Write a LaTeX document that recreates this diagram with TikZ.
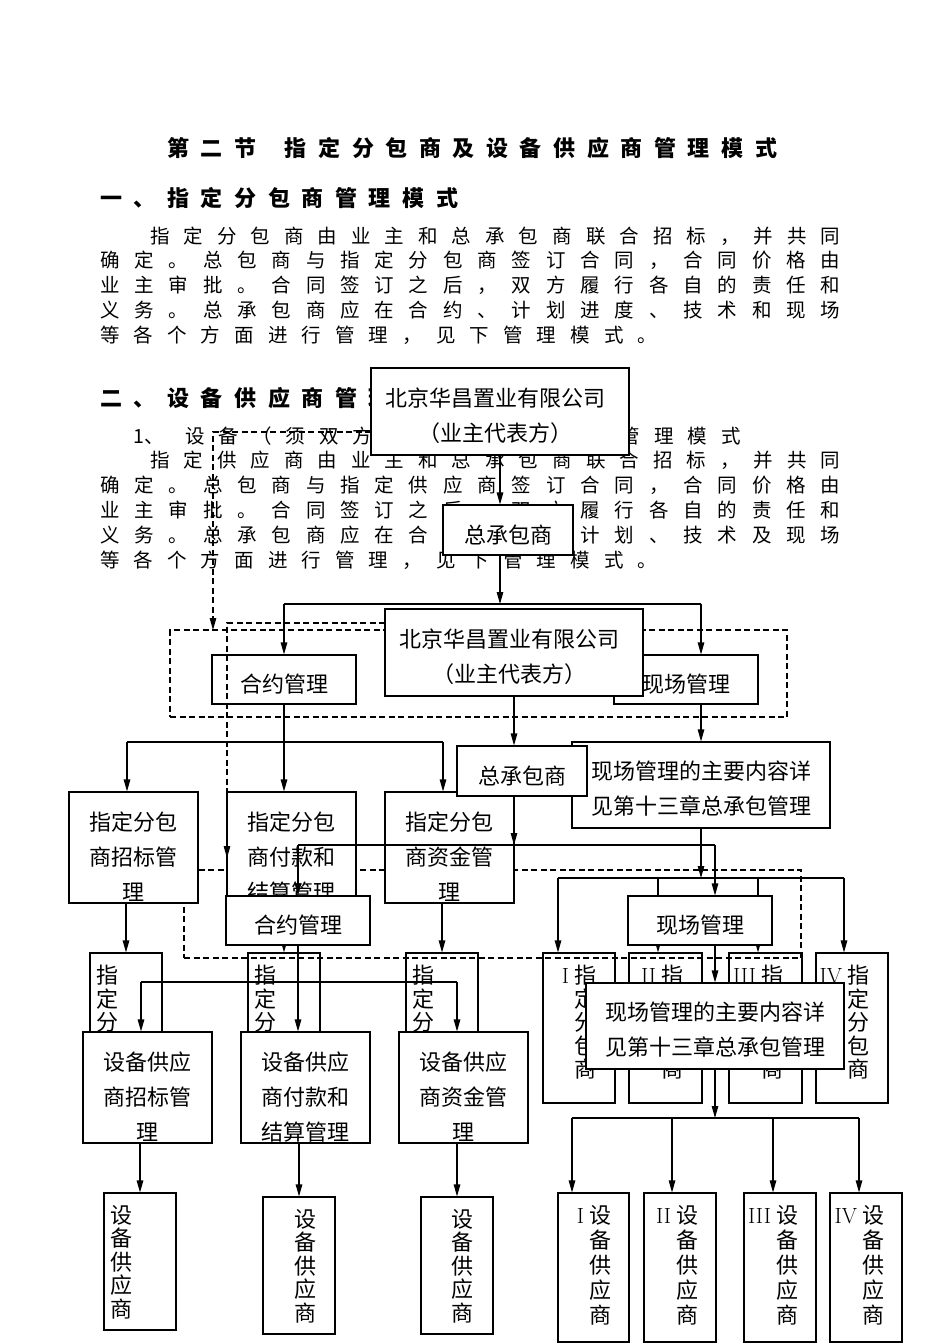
\documentclass[tikz,border=0pt]{standalone}
\usepackage{fontspec}
\newfontfamily\cjk{Noto Sans CJK SC}
\usetikzlibrary{arrows.meta,calc}

% one character per slot of width \pitch, or spread to the box width
\newlength\pitch
\setlength\pitch{33.6pt}
\def\fixp#1{\ifx#1\relax\else\makebox[\pitch][l]{#1}\expandafter\fixp\fi}
\def\sprd#1{\ifx#1\relax\else#1\hfil\expandafter\sprd\fi}
\newcommand\rn[1]{\makebox[0pt][r]{\rmfamily #1\hspace{5pt}}}

\tikzset{
  box/.style={draw, line width=1.1pt, fill=white, inner sep=0pt},
  hollow/.style={draw, line width=1.1pt, inner sep=0pt},
  txt/.style={inner sep=0pt, align=center, font=\cjk\fontsize{22}{35}\selectfont},
  vtxt/.style={inner sep=0pt, align=center, anchor=north, font=\cjk\fontsize{22}{23.5}\selectfont},
  ptxt/.style={inner sep=0pt, anchor=west, font=\cjk\fontsize{19.5}{20}\selectfont},
  htxt/.style={inner sep=0pt, anchor=west, font=\cjk\bfseries\fontsize{22}{24}\selectfont},
  ln/.style={line width=1.1pt},
  arr/.style={line width=1.1pt, -{Triangle[length=12pt,width=6.5pt]}},
  dsh/.style={dash pattern=on 6pt off 3.5pt},
}

% box: style, name, x1, y1, x2, y2, text dx, text dy, text
\newcommand\bx[9]{%
  \node[#1, minimum width=#5-#3, minimum height=#6-#4] (#2) at ({(#3+#5)/2},{(#4+#6)/2}) {};
  \node[txt] (#2t) at ({(#3+#5)/2+#7},{(#4+#6)/2+#8}) {#9};}
% narrow box with text in a column: style, name, x1, y1, x2, y2, column offset, text
\newcommand\vbx[8]{%
  \node[#1, minimum width=#5-#3, minimum height=#6-#4] (#2) at ({(#3+#5)/2},{(#4+#6)/2}) {};
  \node[vtxt] (#2t) at ({#3+#7},{#4+12}) {#8};}

\begin{document}
\begin{tikzpicture}[x=1pt,y=-1pt]
\fill[white] (0,0) rectangle (950,1344);

%% text of the page
\node[htxt] (title) at (167,148) {\fixp 第二节\relax\hspace{16.8pt}\fixp 指定分包商及设备供应商管理模式\relax};
\node[htxt] (head1) at (100,198) {\fixp 一、指定分包商管理模式\relax};
\node[ptxt] (p1a) at (150,236) {\hbox to 690pt{\sprd 指定分包商由业主和总承包商联合招标，并共同\relax\unskip}};
\node[ptxt] (p1b) at (100,260) {\hbox to 740pt{\sprd 确定。总包商与指定分包商签订合同，合同价格由\relax\unskip}};
\node[ptxt] (p1c) at (100,285) {\hbox to 740pt{\sprd 业主审批。合同签订之后，双方履行各自的责任和\relax\unskip}};
\node[ptxt] (p1d) at (100,310) {\hbox to 740pt{\sprd 义务。总承包商应在合约、计划进度、技术和现场\relax\unskip}};
\node[ptxt] (p1e) at (100,335) {\fixp 等各个方面进行管理，见下管理模式。\relax};
\node[htxt] (head2) at (100,398) {\fixp 二、设备供应商管理模式\relax};
\node[ptxt] (sub1) at (133,436) {\makebox[52pt][l]{1、}\setlength\pitch{33.5pt}\fixp 设备（须双方共同确定品牌）管理模式\relax};
\node[ptxt] (p2a) at (150,460) {\hbox to 690pt{\sprd 指定供应商由业主和总承包商联合招标，并共同\relax\unskip}};
\node[ptxt] (p2b) at (100,485) {\hbox to 740pt{\sprd 确定。总包商与指定供应商签订合同，合同价格由\relax\unskip}};
\node[ptxt] (p2c) at (100,510) {\hbox to 740pt{\sprd 业主审批。合同签订之后，双方履行各自的责任和\relax\unskip}};
\node[ptxt] (p2d) at (100,535) {\hbox to 740pt{\sprd 义务。总承包商应在合约、进度计划、技术及现场\relax\unskip}};
\node[ptxt] (p2e) at (100,560) {\fixp 等各个方面进行管理，见下管理模式。\relax};

%% first chart (designated subcontractors)
\node[hollow, dsh, minimum width=617, minimum height=87] (grpA) at (478.5,673.5) {};
\coordinate (sA) at (371,432);
\coordinate (dA) at (213,630);
\draw[arr, dsh] (sA) -| (dA);
\bx{box}{ownA}{371}{368}{629}{455}{-5}{4}{北京华昌置业有限公司\\（业主代表方）}
\bx{box}{zcA}{443}{505}{573}{555}{0}{5}{总承包商}
\coordinate (jA) at (500,604);
\draw[arr] (ownA.south) -- (ownA.south |- zcA.north);
\draw[arr] (ownA.south |- zcA.south) -- (jA);
\bx{box}{hyA}{212}{655}{356}{704}{0}{5}{合约管理}
\bx{box}{xcA}{614}{655}{758}{704}{0}{5}{现场管理}
\bx{box}{nrA}{572}{742}{830}{828}{0}{4}{现场管理的主要内容详\\见第十三章总承包管理}
\draw[ln] (hyA.north |- jA) -- (nrA.north |- jA);
\draw[arr] (hyA.north |- jA) -- (hyA.north);
\draw[arr] (nrA.north |- jA) -- (nrA.north |- xcA.north);
\draw[arr] (nrA.north |- xcA.south) -- (nrA.north);

%% second chart, top part
\bx{box}{ownB}{385}{609}{643}{696}{-5}{4}{北京华昌置业有限公司\\（业主代表方）}
\node[hollow, dsh, minimum width=617, minimum height=88] (grpB) at (492.5,914) {};

%% first chart, lower part
\bx{box}{zbA}{69}{792}{198}{903}{0}{9.5}{指定分包\\商招标管\\理}
\bx{box}{fkA}{227}{792}{356}{903}{0}{9.5}{指定分包\\商付款和\\结算管理}
\bx{box}{zjA}{385}{792}{514}{903}{0}{9.5}{指定分包\\商资金管\\理}
\vbx{hollow}{fbA1}{90}{953}{162}{1090}{17}{指\\定\\分\\包\\商}
\vbx{hollow}{fbA2}{248}{953}{320}{1090}{17}{指\\定\\分\\包\\商}
\vbx{hollow}{fbA3}{406}{953}{478}{1090}{17}{指\\定\\分\\包\\商}
\vbx{hollow}{rA1}{543}{953}{615}{1103}{42}{\rn{I}指\\定\\分\\包\\商}
\vbx{hollow}{rA2}{629}{953}{702}{1103}{43}{\rn{II}指\\定\\分\\包\\商}
\vbx{hollow}{rA3}{729}{953}{802}{1103}{43}{\rn{III}指\\定\\分\\包\\商}
\vbx{hollow}{rA4}{816}{953}{888}{1103}{42}{\rn{IV}指\\定\\分\\包\\商}
\coordinate (kA1) at (127,742);
\coordinate (kA3) at (443,742);
\draw[arr] (hyA.south) -- (hyA.south |- fkA.north);
\draw[ln] (kA1) -- (kA3);
\draw[arr] (kA1) -- (kA1 |- zbA.north);
\draw[arr] (kA3) -- (kA3 |- zjA.north);
\foreach \i in {1,2,3}
  \draw[arr] (fbA\i.north |- zbA.south) -- (fbA\i.north);
\coordinate (qA1) at (558,878);
\coordinate (qA2) at (658,878);
\coordinate (qA3) at (758,878);
\coordinate (qA4) at (844,878);
\draw[arr] (nrA.south) -- (nrA.south |- qA1);
\draw[ln] (qA1) -- (qA4);
\foreach \i in {1,...,4}
  \draw[arr] (qA\i) -- (qA\i |- rA\i.north);

%% second chart (equipment suppliers)
\coordinate (sB) at (385,623);
\coordinate (dB) at (227,858);
\draw[arr, dsh] (sB) -| (dB);
\bx{box}{zcB}{457}{746}{587}{796}{0}{5}{总承包商}
\coordinate (jB) at (514,845);
\draw[arr] (ownB.south) -- (ownB.south |- zcB.north);
\draw[arr] (ownB.south |- zcB.south) -- (jB);
\bx{box}{hyB}{226}{896}{370}{945}{0}{5}{合约管理}
\bx{box}{xcB}{628}{896}{772}{945}{0}{5}{现场管理}
\bx{box}{nrB}{586}{983}{844}{1069}{0}{4}{现场管理的主要内容详\\见第十三章总承包管理}
\draw[ln] (hyB.north |- jB) -- (nrB.north |- jB);
\draw[arr] (hyB.north |- jB) -- (hyB.north);
\draw[arr] (nrB.north |- jB) -- (nrB.north |- xcB.north);
\draw[arr] (nrB.north |- xcB.south) -- (nrB.north);

\bx{box}{sbB}{83}{1032}{212}{1143}{0}{9.5}{设备供应\\商招标管\\理}
\bx{box}{fkB}{241}{1032}{370}{1143}{0}{9.5}{设备供应\\商付款和\\结算管理}
\bx{box}{zjB}{399}{1032}{528}{1143}{0}{9.5}{设备供应\\商资金管\\理}
\vbx{box}{gyB1}{104}{1193}{176}{1330}{17}{设\\备\\供\\应\\商}
\vbx{box}{gyB2}{263}{1197}{335}{1334}{42}{设\\备\\供\\应\\商}
\vbx{box}{gyB3}{421}{1197}{493}{1334}{41}{设\\备\\供\\应\\商}
\coordinate (kB1) at (141,982);
\coordinate (kB3) at (457,982);
\draw[arr] (hyB.south) -- (hyB.south |- fkB.north);
\draw[ln] (kB1) -- (kB3);
\draw[arr] (kB1) -- (kB1 |- sbB.north);
\draw[arr] (kB3) -- (kB3 |- zjB.north);
\foreach \i in {1,2,3}
  \draw[arr] (gyB\i.north |- sbB.south) -- (gyB\i.north);

\vbx{box}{rB1}{558}{1193}{629}{1342}{42}{\rn{I}设\\[1.5pt]备\\[1.5pt]供\\[1.5pt]应\\[1.5pt]商}
\vbx{box}{rB2}{644}{1193}{716}{1342}{43}{\rn{II}设\\[1.5pt]备\\[1.5pt]供\\[1.5pt]应\\[1.5pt]商}
\vbx{box}{rB3}{744}{1193}{816}{1342}{43}{\rn{III}设\\[1.5pt]备\\[1.5pt]供\\[1.5pt]应\\[1.5pt]商}
\vbx{box}{rB4}{830}{1193}{902}{1342}{43}{\rn{IV}设\\[1.5pt]备\\[1.5pt]供\\[1.5pt]应\\[1.5pt]商}
\coordinate (qB1) at (572,1118);
\coordinate (qB2) at (672,1118);
\coordinate (qB3) at (773,1118);
\coordinate (qB4) at (859,1118);
\draw[arr] (nrB.south) -- (nrB.south |- qB1);
\draw[ln] (qB1) -- (qB4);
\foreach \i in {1,...,4}
  \draw[arr] (qB\i) -- (qB\i |- rB\i.north);
\end{tikzpicture}
\end{document}
